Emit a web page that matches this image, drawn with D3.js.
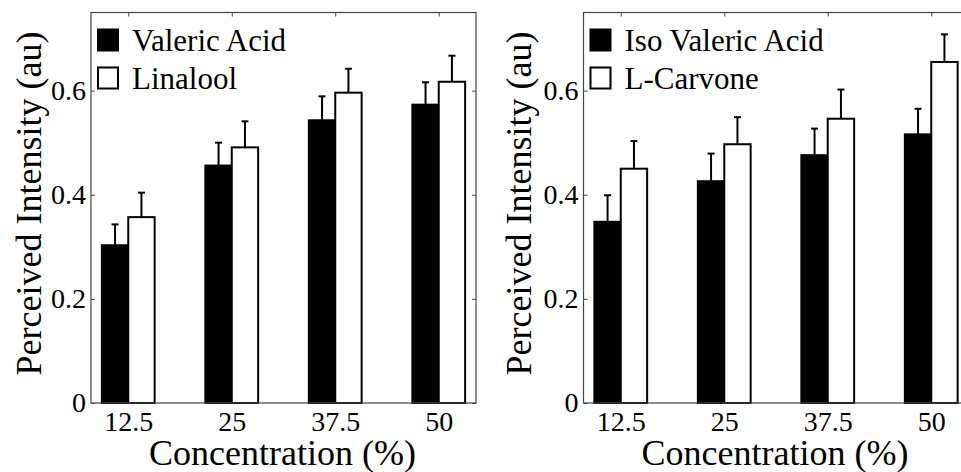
<!DOCTYPE html>
<html>
<head>
<meta charset="utf-8">
<script src="https://cdn.jsdelivr.net/npm/d3@7"></script>
<style>
  body { margin: 0; background: #fff; }
  svg text { font-family: "Liberation Serif", "Times New Roman", serif; fill: #000; }
</style>
</head>
<body>
<svg id="chart" width="961" height="472"></svg>
<script>
// Concentration levels on the x axis
const concentrations = ["12.5", "25", "37.5", "50"];
const yTicks = [0, 0.2, 0.4, 0.6];

// Left panel
const valericAcid = [0.303, 0.456, 0.543, 0.573];
const valericAcidErr = [0.040, 0.044, 0.046, 0.043];
const linalool = [0.357, 0.491, 0.596, 0.617];
const linaloolErr = [0.047, 0.050, 0.046, 0.050];

// Right panel
const isoValericAcid = [0.348, 0.426, 0.476, 0.516];
const isoValericAcidErr = [0.051, 0.053, 0.051, 0.049];
const lCarvone = [0.450, 0.497, 0.546, 0.655];
const lCarvoneErr = [0.053, 0.052, 0.056, 0.053];

const serif = '"Liberation Serif", "Times New Roman", serif';

class BarPanel {

    constructor(svg, left, labelX, names, series, errors) {
        this.svg = svg;
        this.left = left;
        this.labelX = labelX;
        this.names = names;
        this.series = series;
        this.errors = errors;
        this.render();
    }

    render() {
        let top = 12.5, bottom = 403, width = 385;
        let barW = 0.255;

        let x = d3.scaleLinear().domain([0.64, 4.36]).range([0, width]);
        let y = d3.scaleLinear().domain([0, 0.75]).range([bottom - top, 0]);
        let h = bottom - top;

        let g = this.svg.append("g")
            .attr("transform", "translate(" + this.left + "," + top + ")");

        // Inward ticks on all four sides
        let ax = "#444";
        let tickIdx = concentrations.map((c, i) => i + 1);

        g.append("g")
            .call(d3.axisLeft(y).tickValues(yTicks).tickSize(-4).tickPadding(5)
                .tickFormat(d => d === 0 ? "0" : d3.format(".1f")(d)));
        g.append("g").attr("transform", "translate(" + width + ",0)")
            .call(d3.axisRight(y).tickValues(yTicks).tickSize(-4).tickFormat(""));
        g.append("g")
            .call(d3.axisTop(x).tickValues(tickIdx).tickSize(-4).tickFormat(""));
        g.append("g").attr("transform", "translate(0," + h + ")")
            .call(d3.axisBottom(x).tickValues(tickIdx).tickSize(-4).tickPadding(8)
                .tickFormat((d, i) => concentrations[i]));

        g.selectAll(".domain").remove();
        g.selectAll(".tick line").style("stroke", ax);
        g.selectAll(".tick text").style("font-size", "28px")
            .style("font-family", serif);

        // Bars: first series black, second white
        let fills = ["#000", "#fff"];
        this.series.forEach((vals, s) => {
            let off = s === 0 ? -barW : 0;
            g.selectAll(".bar" + s).data(vals).join("rect")
                .attr("class", "bar" + s)
                .attr("x", (d, i) => x(i + 1 + off))
                .attr("width", x(barW) - x(0))
                .attr("y", d => y(d))
                .attr("height", d => h - y(d))
                .style("fill", fills[s])
                .style("stroke", "#000")
                .style("stroke-width", 2);
        });

        // Upper error bars with caps
        this.series.forEach((vals, s) => {
            let cx = i => x(i + 1 + (s === 0 ? -barW / 2 : barW / 2));
            let errs = this.errors[s];
            g.selectAll(".err" + s).data(vals).join("line")
                .attr("class", "err" + s)
                .attr("x1", (d, i) => cx(i))
                .attr("x2", (d, i) => cx(i))
                .attr("y1", d => y(d))
                .attr("y2", (d, i) => y(d + errs[i]))
                .style("stroke", "#000")
                .style("stroke-width", 2);
            g.selectAll(".cap" + s).data(vals).join("line")
                .attr("class", "cap" + s)
                .attr("x1", (d, i) => cx(i) - 3.5)
                .attr("x2", (d, i) => cx(i) + 3.5)
                .attr("y1", (d, i) => y(d + errs[i]))
                .attr("y2", (d, i) => y(d + errs[i]))
                .style("stroke", "#000")
                .style("stroke-width", 2);
        });

        // Axes box
        g.append("rect")
            .attr("x", 0).attr("y", 0)
            .attr("width", width).attr("height", h)
            .style("fill", "none")
            .style("stroke", ax)
            .style("stroke-width", 1.2);

        // Legend
        let leg = g.selectAll(".legend").data(this.names).join("g")
            .attr("class", "legend")
            .attr("transform", (d, i) => "translate(7," + (17 + i * 38) + ")");
        leg.append("rect")
            .attr("x", 0).attr("y", 0)
            .attr("width", 20).attr("height", 21)
            .style("fill", (d, i) => fills[i])
            .style("stroke", "#000")
            .style("stroke-width", 2);
        leg.append("text")
            .attr("x", 34)
            .attr("y", 10.5)
            .attr("dominant-baseline", "central")
            .style("font-family", serif)
            .style("font-size", "31px")
            .text(d => d);

        // Axis titles
        g.append("text")
            .attr("x", width / 2 - 1)
            .attr("y", 465 - top)
            .attr("text-anchor", "middle")
            .style("font-family", serif)
            .style("font-size", "36px")
            .text("Concentration (%)");

        this.svg.append("text")
            .attr("transform", "translate(" + this.labelX + ",203.5) rotate(-90)")
            .attr("text-anchor", "middle")
            .style("font-family", serif)
            .style("font-size", "36px")
            .text("Perceived Intensity (au)");
    }
}

let svg = d3.select("#chart");
new BarPanel(svg, 91, 41, ["Valeric Acid", "Linalool"], [valericAcid, linalool], [valericAcidErr, linaloolErr]);
new BarPanel(svg, 583.5, 531, ["Iso Valeric Acid", "L-Carvone"], [isoValericAcid, lCarvone], [isoValericAcidErr, lCarvoneErr]);
</script>
</body>
</html>
